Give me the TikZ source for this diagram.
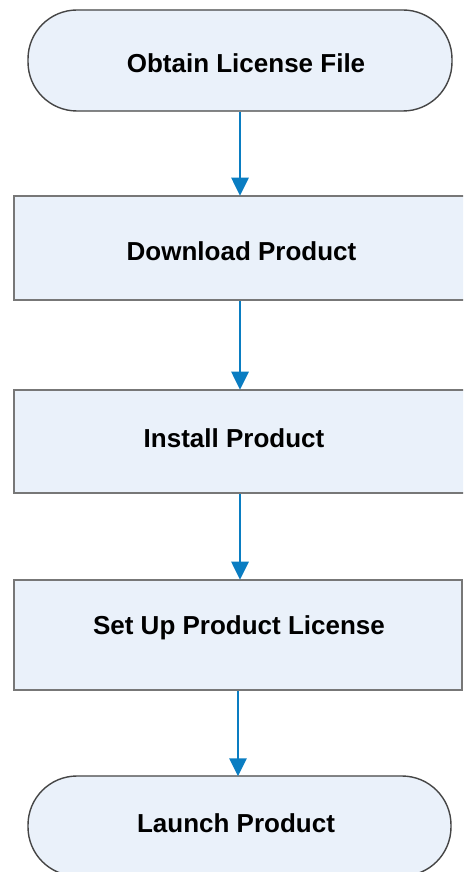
\documentclass[tikz,border=0pt]{standalone}
\usepackage{fontspec}
\setmainfont{Liberation Sans}
\usetikzlibrary{arrows.meta}
\definecolor{boxfill}{HTML}{EAF1FA}
\definecolor{boxline}{HTML}{777777}
\definecolor{termline}{HTML}{454545}
\definecolor{arrowblue}{HTML}{0A7DC2}
\tikzset{
  txt/.style={font=\fontsize{26}{30}\selectfont\bfseries, text=black},
  termbox/.style={draw=termline, fill=boxfill, line width=1.4pt,
    rounded corners=49pt, minimum width=424pt, minimum height=101pt, inner sep=0pt},
  procbox/.style={draw=boxline, fill=boxfill, line width=2.6pt,
    minimum height=104pt, inner sep=0pt},
  flow/.style={draw=arrowblue, line width=2.8pt,
    -{Triangle[width=17pt,length=18pt]}, shorten >=-1pt}
}
\begin{document}
\begin{tikzpicture}[x=1pt,y=-1pt]
\useasboundingbox (0,0) rectangle (463,872);
\clip (0,0) rectangle (463,872);
\fill[white] (0,0) rectangle (463,872);
\node[termbox] (t1) at (240,60.5) {};
\node[procbox, minimum width=452pt] (b1) at (240,248) {};
\node[procbox, minimum width=452pt, minimum height=103pt] (b2) at (240,441.5) {};
\node[procbox, minimum width=448pt, minimum height=110pt] (b3) at (238,635) {};
\node[termbox, minimum width=423pt, minimum height=100pt] (t2) at (239.5,826) {};
\node[txt] (l1) at (246,63) {Obtain License File};
\node[txt] (l2) at (241.5,251) {Download Product};
\node[txt] (l3) at (234,438) {Install Product};
\node[txt] (l4) at (239,628) {Set Up Product License};
\node[txt] (l5) at (236,823) {Launch Product};
\draw[flow] (t1.south) -- (t1.south |- b1.north);
\draw[flow] (b1.south) -- (b1.south |- b2.north);
\draw[flow] (b2.south) -- (b2.south |- b3.north);
\draw[flow] (b3.south) -- (b3.south |- t2.north);
\end{tikzpicture}
\end{document}
